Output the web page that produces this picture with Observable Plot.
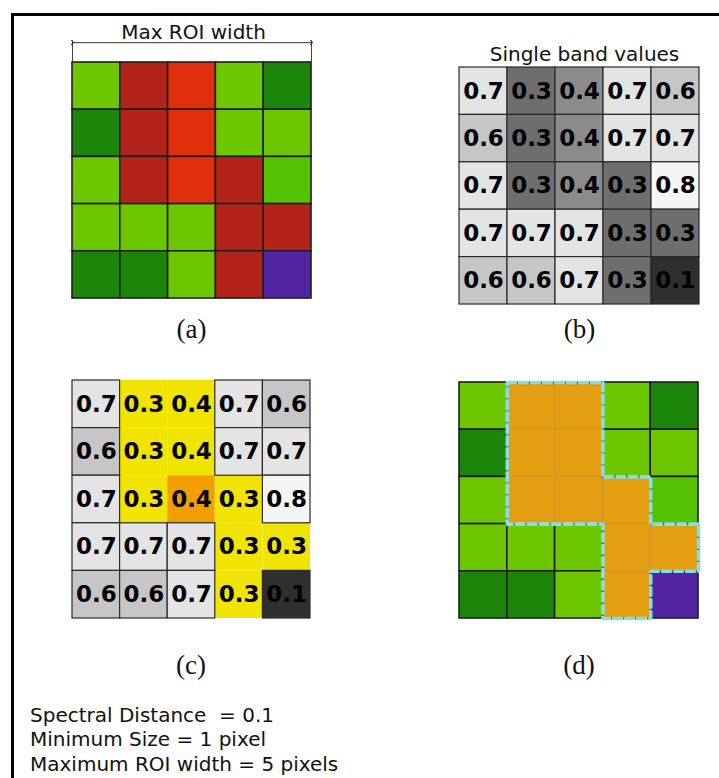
<!DOCTYPE html>
<html>
<head>
<meta charset="utf-8">
<script src="https://cdn.jsdelivr.net/npm/d3@7"></script>
<script src="https://cdn.jsdelivr.net/npm/@observablehq/plot@0.6"></script>
<style>
  html, body { margin: 0; padding: 0; background: #fff; }
  #fig { position: relative; width: 719px; height: 778px; overflow: hidden; background: #fff; }
  .rule { position: absolute; background: #000; }
  .panel { position: absolute; }
  .title { position: absolute; font: 20px "DejaVu Sans"; line-height: 20px; color: #111; white-space: nowrap; transform: translateX(-50%); }
  .label { position: absolute; font: 27px "Liberation Serif"; line-height: 27px; color: #111; white-space: nowrap; transform: translateX(-50%); }
  .notes { position: absolute; left: 30px; top: 703px; font: 20px "DejaVu Sans"; line-height: 24.4px; color: #111; white-space: pre; }
</style>
</head>
<body>
<div id="fig"></div>
<script>
// Land-cover classes of the 5x5 image patch
const classCodes  = ["LG", "DG", "G", "DR", "R", "P"];
const classColors = ["#6cc700", "#1c860a", "#55c200", "#b3231a", "#e02f0d", "#5226a2"];
const classGrid = [
  ["LG", "DR", "R",  "LG", "DG"],
  ["DG", "DR", "R",  "LG", "LG"],
  ["LG", "DR", "R",  "DR", "G"],
  ["LG", "LG", "LG", "DR", "DR"],
  ["DG", "DG", "LG", "DR", "P"]
];

// Single band values of the same patch
const bandValues = [
  [0.7, 0.3, 0.4, 0.7, 0.6],
  [0.6, 0.3, 0.4, 0.7, 0.7],
  [0.7, 0.3, 0.4, 0.3, 0.8],
  [0.7, 0.7, 0.7, 0.3, 0.3],
  [0.6, 0.6, 0.7, 0.3, 0.1]
];
const greyLevels = [0.1, 0.3, 0.4, 0.6, 0.7, 0.8];
const greyShades = ["#2f2f2f", "#6e6e6e", "#8b8b8b", "#c6c6c6", "#e4e4e4", "#f5f5f5"];

// Region grown from the seed pixel, as [row, col]
const seedCell = [2, 2];
const regionCells = [[0, 1], [0, 2], [1, 1], [1, 2], [2, 1], [2, 2], [2, 3], [3, 3], [3, 4], [4, 3]];
// Region boundary, as [col, row] grid corners
const regionOutline = [[1, 0], [3, 0], [3, 2], [4, 2], [4, 3], [5, 3], [5, 4], [4, 4], [4, 5], [3, 5], [3, 3], [1, 3], [1, 0]];

const regionColor = "#f0e400";
const seedColor = "#f29e00";
const roiColor = "#e49e12";
const outlineColor = "#86dfe6";

const panelLabels = ["(a)", "(b)", "(c)", "(d)"];
const panelTitles = ["Max ROI width", "Single band values"];
const notes = ["Spectral Distance  = 0.1", "Minimum Size = 1 pixel", "Maximum ROI width = 5 pixels"];

// ---- derived tables ----
const classColor = new Map(classCodes.map((c, i) => [c, classColors[i]]));
const greyOf = new Map(greyLevels.map((v, i) => [v, greyShades[i]]));
const inRegion = (r, c) => regionCells.some(([rr, cc]) => rr === r && cc === c);
const isSeed = (r, c) => r === seedCell[0] && c === seedCell[1];

const cells = [];
for (let r = 0; r < 5; r++) for (let c = 0; c < 5; c++) {
  cells.push({row: r, col: c, cls: classGrid[r][c], value: bandValues[r][c], region: inRegion(r, c), seed: isSeed(r, c)});
}

const fig = document.getElementById("fig");

function addDiv(cls, text, left, topPx) {
  const d = document.createElement("div");
  d.className = cls;
  d.textContent = text;
  d.style.left = left + "px";
  d.style.top = topPx + "px";
  fig.appendChild(d);
  return d;
}

// Frame lines
const frameTop = document.createElement("div");
frameTop.className = "rule";
Object.assign(frameTop.style, {left: "11px", top: "13px", width: "708px", height: "3px"});
fig.appendChild(frameTop);
const frameLeft = document.createElement("div");
frameLeft.className = "rule";
Object.assign(frameLeft.style, {left: "11px", top: "13px", width: "3px", height: "765px"});
fig.appendChild(frameLeft);

const rectOpts = {
  x1: d => d.col, x2: d => d.col + 1,
  y1: d => d.row, y2: d => d.row + 1
};

const valueText = data => Plot.text(data, {
  x: d => d.col + 0.5, y: d => d.row + 0.5,
  text: d => d.value.toFixed(1),
  fontSize: 23, fontWeight: "bold", fontFamily: "DejaVu Sans", fill: "#000"
});

function gridPlot({left, topPx, w, h, mt = 8, mb = 8, ml = 8, mr = 8, marks}) {
  const svg = Plot.plot({
    width: w + ml + mr, height: h + mt + mb,
    marginTop: mt, marginBottom: mb, marginLeft: ml, marginRight: mr,
    x: {domain: [0, 5], axis: null},
    y: {domain: [0, 5], reverse: true, axis: null},
    color: {type: "identity"},
    style: {background: "transparent", overflow: "visible"},
    marks
  });
  svg.classList.add("panel");
  svg.style.left = (left - ml) + "px";
  svg.style.top = (topPx - mt) + "px";
  fig.appendChild(svg);
  return svg;
}

// (a) class map with the maximum ROI width
gridPlot({
  left: 72, topPx: 62, w: 239, h: 236, mt: 30,
  marks: [
    Plot.rect(cells, {...rectOpts, fill: d => classColor.get(d.cls), stroke: "#1e1e1e", strokeWidth: 1.6}),
    Plot.ruleX([0, 5], {y1: -0.46, y2: 0, stroke: "#444", strokeWidth: 1}),
    Plot.link([{a: 0, b: 5, y: -0.42}], {x1: "a", x2: "b", y1: "y", y2: "y", stroke: "#333", strokeWidth: 1, markerStart: "arrow", markerEnd: "arrow"})
  ]
});

// (b) single band values
gridPlot({
  left: 459, topPx: 67, w: 240, h: 237,
  marks: [
    Plot.rect(cells, {...rectOpts, fill: d => greyOf.get(d.value), stroke: "#2a2a2a", strokeWidth: 1.2}),
    valueText(cells)
  ]
});

// (c) region growing from the seed pixel
gridPlot({
  left: 72, topPx: 380, w: 238, h: 238,
  marks: [
    Plot.rect(cells.filter(d => d.region), {...rectOpts, fill: d => d.seed ? seedColor : regionColor}),
    Plot.rect(cells.filter(d => !d.region), {...rectOpts, fill: d => greyOf.get(d.value), stroke: "#2a2a2a", strokeWidth: 1.2}),
    valueText(cells)
  ]
});

// (d) resulting ROI over the class map
gridPlot({
  left: 459, topPx: 382, w: 239, h: 236,
  marks: [
    Plot.rect(cells.filter(d => !d.region), {...rectOpts, fill: d => classColor.get(d.cls), stroke: "#1e1e1e", strokeWidth: 1.6}),
    Plot.rect(cells.filter(d => d.region), {...rectOpts, fill: roiColor, stroke: "#c98c14", strokeWidth: 1, strokeOpacity: 0.6}),
    Plot.line(regionOutline, {x: d => d[0], y: d => d[1], stroke: "#111", strokeWidth: 1.6}),
    Plot.line(regionOutline, {x: d => d[0], y: d => d[1], stroke: outlineColor, strokeWidth: 3.6, strokeDasharray: "8,4"})
  ]
});

// Titles and panel labels
addDiv("title", panelTitles[0], 193.5, 22);
addDiv("title", panelTitles[1], 584.5, 44);
addDiv("label", panelLabels[0], 191.5, 316);
addDiv("label", panelLabels[1], 579.5, 316);
addDiv("label", panelLabels[2], 191, 652);
addDiv("label", panelLabels[3], 579, 652);

// Parameter notes
const notesDiv = document.createElement("div");
notesDiv.className = "notes";
notesDiv.textContent = notes.join("\n");
fig.appendChild(notesDiv);
</script>
</body>
</html>
